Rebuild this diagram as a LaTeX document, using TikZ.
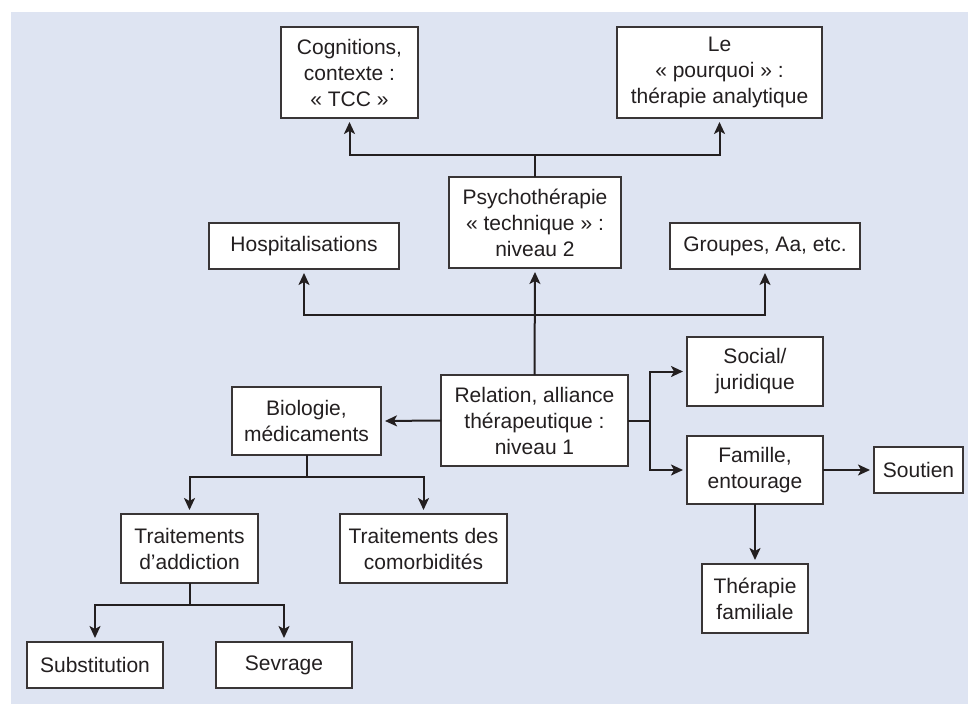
\documentclass[tikz,border=0pt]{standalone}
\usepackage{fontspec}
\setmainfont{Liberation Sans}
\usetikzlibrary{arrows.meta}
\definecolor{panel}{RGB}{222,228,242}
\definecolor{ink}{RGB}{35,31,32}
\tikzset{
  boxnode/.style={draw=ink!90, line width=1.4pt, fill=white, inner sep=0pt, outer sep=0pt,
    align=center, font=\fontsize{21}{26}\selectfont, text=ink},
  arr/.style={draw=ink, line width=2pt, -{Stealth[length=12pt,width=11pt,inset=3pt]}, shorten >=4pt},
  ln/.style={draw=ink, line width=2pt}
}
\begin{document}
\begin{tikzpicture}[x=1pt,y=-1pt]
\useasboundingbox (0,0) rectangle (968,704);
\fill[panel] (11,12) rectangle (968,704);

\node[boxnode, minimum width=137pt, minimum height=91pt] (cog) at (349.5,72.5) {Cognitions,\\contexte :\\« TCC »};
\node[boxnode, minimum width=205pt, minimum height=91pt] (pq) at (719.5,72.5) {Le\\« pourquoi » :\\thérapie analytique};
\node[boxnode, minimum width=172pt, minimum height=91pt] (psy) at (535,222.5) {Psychothérapie\\« technique » :\\niveau 2};
\node[boxnode, minimum width=190pt, minimum height=46pt] (hosp) at (304,246) {Hospitalisations};
\node[boxnode, minimum width=190pt, minimum height=46pt] (grp) at (765,246) {Groupes, Aa, etc.};
\node[boxnode, minimum width=187pt, minimum height=91pt] (rel) at (534.5,420.5) {Relation, alliance\\thérapeutique :\\niveau 1};
\node[boxnode, minimum width=149pt, minimum height=68pt] (bio) at (306.5,421) {Biologie,\\médicaments};
\node[boxnode, minimum width=136pt, minimum height=69pt] (soc) at (755,371.5) {Social/\\juridique};
\node[boxnode, minimum width=136pt, minimum height=68pt] (fam) at (755,470) {Famille,\\entourage};
\node[boxnode, minimum width=89pt, minimum height=46pt] (sou) at (918.5,470) {Soutien};
\node[boxnode, minimum width=137pt, minimum height=69pt] (ta) at (189.5,548.5) {Traitements\\d’addiction};
\node[boxnode, minimum width=167pt, minimum height=69pt] (tc) at (423.5,548.5) {Traitements des\\comorbidités};
\node[boxnode, minimum width=106pt, minimum height=69pt] (tf) at (755,598.5) {Thérapie\\familiale};
\node[boxnode, minimum width=136pt, minimum height=46pt] (sub) at (95,665) {Substitution};
\node[boxnode, minimum width=136pt, minimum height=46pt] (sev) at (284,665) {Sevrage};

\coordinate (jtop) at (535,155);
\coordinate (jmid) at (534.5,315);
\coordinate (jr) at (650,420.5);
\coordinate (jb) at (306.5,477);
\coordinate (jt) at (189.5,605);

% level 2 -> top
\draw[ln] (psy.north) -- (jtop);
\draw[arr] (jtop) -| (cog.south);
\draw[arr] (jtop) -| (pq.south);
% level 1 -> level 2 row
\draw[arr] (rel.north) -- (psy.south);
\draw[arr] (jmid) -| (hosp.south);
\draw[arr] (jmid) -| (grp.south);
% level 1 -> left
\draw[arr] (rel.west) -- (bio.east);
% level 1 -> right
\draw[ln] (rel.east) -- (jr);
\draw[arr] (jr) |- (soc.west);
\draw[arr] (jr) |- (fam.west);
\draw[arr] (fam.east) -- (sou.west);
\draw[arr] (fam.south) -- (tf.north);
% biologie
\draw[ln] (bio.south) -- (jb);
\draw[arr] (jb) -| (ta.north);
\draw[arr] (jb) -| (tc.north);
% addiction
\draw[ln] (ta.south) -- (jt);
\draw[arr] (jt) -| (sub.north);
\draw[arr] (jt) -| (sev.north);
\end{tikzpicture}
\end{document}
